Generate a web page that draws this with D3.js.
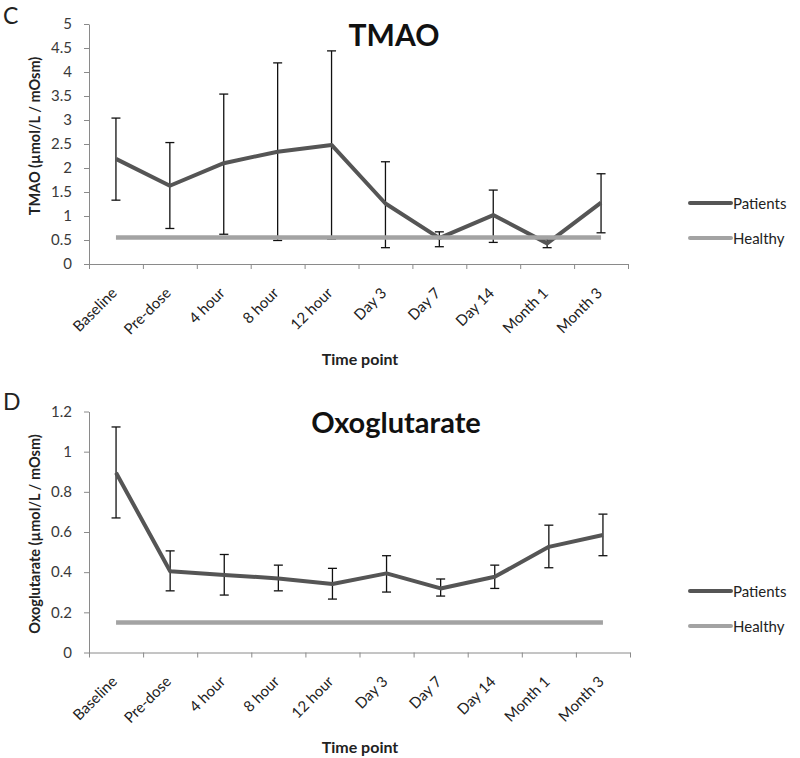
<!DOCTYPE html>
<html><head><meta charset="utf-8">
<script src="https://cdn.jsdelivr.net/npm/d3@7"></script>
<style>
body{margin:0;background:#fff;}
svg text{font-family:Lato,"Open Sans",sans-serif;}
</style></head>
<body><svg id="c" width="800" height="758"></svg>
<script>
const categories = ["Baseline","Pre-dose","4 hour","8 hour","12 hour","Day 3","Day 7","Day 14","Month 1","Month 3"];

const tmaoMean  = [2.19, 1.63, 2.10, 2.34, 2.48, 1.26, 0.54, 1.02, 0.43, 1.28];
const tmaoUpper = [3.04, 2.53, 3.54, 4.19, 4.44, 2.13, 0.67, 1.54, 0.52, 1.88];
const tmaoLower = [1.33, 0.74, 0.62, 0.49, 0.52, 0.34, 0.36, 0.45, 0.34, 0.65];
const tmaoHealthy = 0.55;
const tmaoTicks = [0, 0.5, 1, 1.5, 2, 2.5, 3, 3.5, 4, 4.5, 5];

const oxoMean  = [0.895, 0.405, 0.386, 0.369, 0.341, 0.394, 0.319, 0.377, 0.526, 0.585];
const oxoUpper = [1.123, 0.506, 0.488, 0.435, 0.419, 0.482, 0.366, 0.435, 0.634, 0.689];
const oxoLower = [0.670, 0.307, 0.286, 0.307, 0.266, 0.301, 0.281, 0.319, 0.422, 0.482];
const oxoHealthy = 0.15;
const oxoTicks = [0, 0.2, 0.4, 0.6, 0.8, 1, 1.2];

const seriesNames = ["Patients", "Healthy"];
const seriesColors = ["#555555", "#a3a3a3"];

const svg = d3.select("#c");

function panel(cfg) {
  const g = svg.append("g");
  const x = d3.scaleBand().domain(categories).range([cfg.x0, cfg.x1]).padding(0);
  const xb = d3.scaleLinear().domain([0, categories.length]).range([cfg.x0, cfg.x1]);
  const y = d3.scaleLinear().domain([0, d3.max(cfg.ticks)]).range([cfg.yBottom, cfg.yTop]);
  const cx = c => x(c) + x.bandwidth() / 2;

  // panel letter
  g.append("text").attr("x", 3).attr("y", cfg.letterY).attr("font-size", 23).attr("fill", "#222").text(cfg.letter);

  // y axis
  const ya = g.append("g").attr("transform", `translate(${cfg.x0},0)`)
    .call(d3.axisLeft(y).tickValues(cfg.ticks).tickSize(5).tickSizeOuter(0).tickPadding(12).tickFormat(d => String(d)));
  ya.selectAll("path,line").attr("stroke", "#8a8a8a");
  ya.selectAll("text").attr("font-size", 15).attr("fill", "#3a3a3a").attr("font-family", "Lato, sans-serif");

  // x axis (ticks between categories)
  const xa = g.append("g").attr("transform", `translate(0,${cfg.yBottom})`)
    .call(d3.axisBottom(xb).tickValues(d3.range(categories.length + 1)).tickSize(5).tickSizeOuter(0).tickFormat(""));
  xa.selectAll("path,line").attr("stroke", "#8a8a8a");

  // x labels
  g.selectAll(".xl").data(categories).enter().append("text")
    .attr("transform", d => `translate(${cx(d) + 2},${cfg.yBottom + 30}) rotate(-45)`)
    .attr("text-anchor", "end")
    .attr("font-size", 15).attr("fill", "#222").text(d => d);

  // axis titles
  g.append("text").attr("transform", `translate(${cfg.ylabX},${cfg.ylabY}) rotate(-90)`)
    .attr("text-anchor", "middle").attr("dominant-baseline", "central")
    .attr("font-size", 14.5).attr("font-weight", "bold").attr("fill", "#222").text(cfg.ylabel);
  g.append("text").attr("x", 360).attr("y", cfg.xlabY).attr("text-anchor", "middle")
    .attr("font-size", 16).attr("font-weight", "bold").attr("fill", "#222").text("Time point");

  // title
  g.append("text").attr("x", cfg.titleX).attr("y", cfg.titleY).attr("text-anchor", "middle")
    .attr("font-size", cfg.titleSize).attr("font-weight", "bold").attr("fill", "#111").text(cfg.title);

  // error bars
  const eb = g.append("g").attr("stroke", "#111").attr("stroke-width", 1.3);
  categories.forEach((c, i) => {
    const px = cx(c);
    eb.append("line").attr("x1", px).attr("x2", px).attr("y1", y(cfg.upper[i])).attr("y2", y(cfg.lower[i]));
    eb.append("line").attr("x1", px - 4.5).attr("x2", px + 4.5).attr("y1", y(cfg.upper[i])).attr("y2", y(cfg.upper[i]));
    eb.append("line").attr("x1", px - 4.5).attr("x2", px + 4.5).attr("y1", y(cfg.lower[i])).attr("y2", y(cfg.lower[i]));
  });

  // patients line
  const line = d3.line().x((d, i) => cx(categories[i])).y(d => y(d));
  g.append("path").datum(cfg.mean).attr("d", line).attr("fill", "none")
    .attr("stroke", seriesColors[0]).attr("stroke-width", 4).attr("stroke-linejoin", "round");

  // healthy line
  const hv = categories.map(() => cfg.healthy);
  g.append("path").datum(hv).attr("d", line).attr("fill", "none")
    .attr("stroke", seriesColors[1]).attr("stroke-width", 4.5);

  // legend
  seriesNames.forEach((s, i) => {
    const ly = cfg.legY + i * 35;
    g.append("line").attr("x1", 690).attr("x2", 731).attr("y1", ly).attr("y2", ly)
      .attr("stroke", seriesColors[i]).attr("stroke-width", 4).attr("stroke-linecap", "round");
    g.append("text").attr("x", 733).attr("y", ly).attr("dominant-baseline", "central")
      .attr("font-size", 15).attr("fill", "#222").text(s);
  });
}

panel({letter: "C", letterY: 24, x0: 89, x1: 628, yTop: 24, yBottom: 264, ticks: tmaoTicks,
  mean: tmaoMean, upper: tmaoUpper, lower: tmaoLower, healthy: tmaoHealthy,
  title: "TMAO", titleX: 394, titleY: 46, titleSize: 30,
  ylabel: "TMAO (µmol/L / mOsm)", ylabX: 34, ylabY: 136, xlabY: 365, legY: 203});

panel({letter: "D", letterY: 410, x0: 89, x1: 630, yTop: 411.5, yBottom: 652.5, ticks: oxoTicks,
  mean: oxoMean, upper: oxoUpper, lower: oxoLower, healthy: oxoHealthy,
  title: "Oxoglutarate", titleX: 396, titleY: 433, titleSize: 29,
  ylabel: "Oxoglutarate (µmol/L / mOsm)", ylabX: 34, ylabY: 534, xlabY: 753, legY: 591});
</script></body></html>
